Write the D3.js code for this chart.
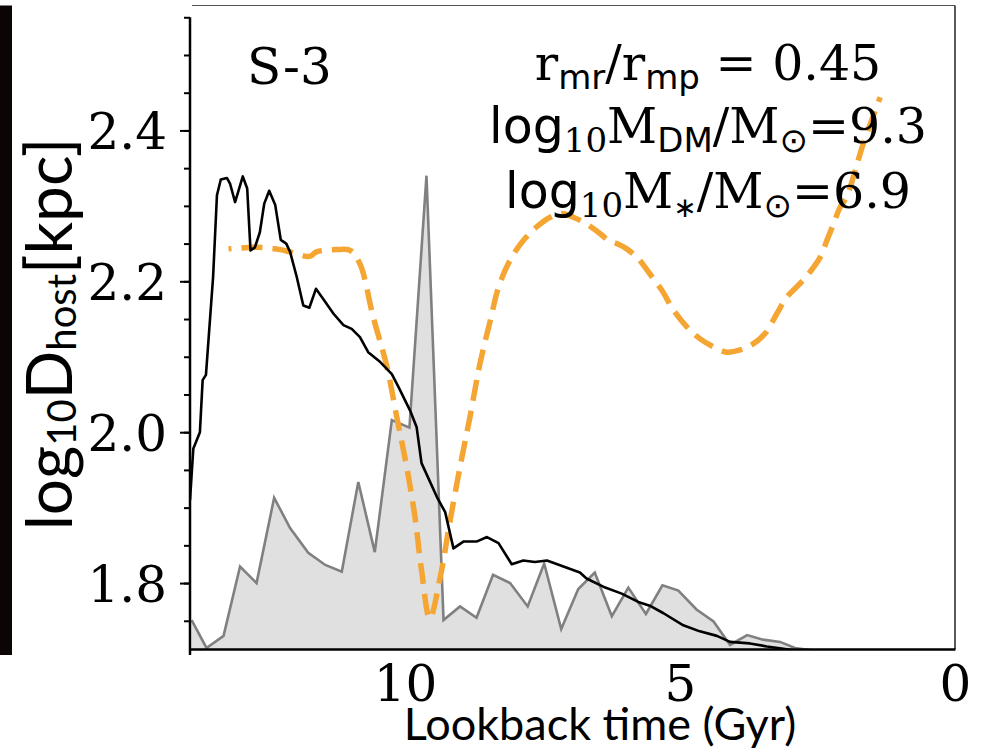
<!DOCTYPE html>
<html>
<head>
<meta charset="utf-8">
<script src="https://cdn.jsdelivr.net/npm/d3@7/dist/d3.min.js"></script>
<style>
  body { margin: 0; background: #fff; }
  svg text { fill: #000; }
</style>
</head>
<body>
<div id="chart"></div>
<script>
// ----------------------------------
// DATA
// ----------------------------------

// grey filled histogram, lookback time (Gyr) vs value in axis units
const sfrTime = [13.88, 13.61, 13.30, 13.00, 12.70, 12.38, 12.09, 11.76, 11.45, 11.15,
  10.85, 10.55, 10.24, 9.92, 9.61, 9.30, 9.00, 8.70, 8.40, 8.09,
  7.77, 7.47, 7.16, 6.85, 6.55, 6.24, 5.94, 5.62, 5.32, 5.03,
  4.70, 4.39, 4.09, 3.78, 3.49, 3.18, 2.91, 2.60, 0.00];
const sfrValue = [1.751, 1.714, 1.730, 1.822, 1.800, 1.913, 1.873, 1.840, 1.824, 1.815,
  1.934, 1.841, 2.016, 2.006, 2.340, 1.751, 1.769, 1.754, 1.811, 1.800,
  1.769, 1.826, 1.739, 1.792, 1.814, 1.756, 1.794, 1.759, 1.797, 1.790,
  1.765, 1.749, 1.718, 1.731, 1.725, 1.722, 1.714, 1.711, 1.711];

// black line
const distTime = [13.91, 13.85, 13.73, 13.68, 13.62, 13.49, 13.42, 13.35, 13.24, 13.18,
  13.09, 12.95, 12.87, 12.81, 12.73, 12.64, 12.56, 12.47, 12.36, 12.26,
  12.16, 12.09, 11.97, 11.85, 11.74, 11.62, 11.51, 11.30, 11.12, 10.97,
  10.82, 10.67, 10.45, 10.24, 10.12, 9.91, 9.79, 9.70, 9.42, 9.27,
  9.12, 8.94, 8.70, 8.51, 8.30, 8.06, 7.85, 7.64, 7.42, 7.12,
  6.82, 6.70, 6.36, 6.06, 5.76, 5.55, 5.30, 4.94, 4.64, 4.33,
  4.09, 3.73, 3.42, 3.12, 2.94];
const distValue = [1.910, 1.978, 2.000, 2.069, 2.076, 2.206, 2.314, 2.335, 2.337, 2.329,
  2.305, 2.339, 2.323, 2.241, 2.245, 2.265, 2.303, 2.320, 2.301, 2.255,
  2.250, 2.239, 2.206, 2.168, 2.165, 2.190, 2.179, 2.157, 2.142, 2.137,
  2.126, 2.106, 2.093, 2.077, 2.060, 2.029, 2.007, 1.959, 1.914, 1.894,
  1.846, 1.855, 1.855, 1.861, 1.853, 1.825, 1.830, 1.828, 1.830, 1.822,
  1.814, 1.806, 1.794, 1.786, 1.775, 1.770, 1.760, 1.744, 1.736, 1.730,
  1.722, 1.720, 1.716, 1.713, 1.711];

// orange dashed line
const orbitTime = [13.21, 12.70, 12.27, 12.09, 11.73, 11.61, 11.24, 11.00, 10.82, 10.58,
  10.33, 10.15, 9.97, 9.82, 9.70, 9.55, 9.36, 9.18, 9.00, 8.82,
  8.64, 8.45, 8.30, 8.09, 7.85, 7.61, 7.36, 7.15, 6.94, 6.70,
  6.45, 6.30, 6.15, 5.97, 5.76, 5.55, 5.33, 5.12, 4.88, 4.64,
  4.39, 4.15, 3.91, 3.67, 3.45, 3.24, 3.06, 2.82, 2.64, 2.45,
  2.33, 2.21, 2.09, 1.97, 1.67, 1.36];
const orbitValue = [2.243, 2.245, 2.242, 2.239, 2.233, 2.239, 2.242, 2.241, 2.223, 2.153,
  2.087, 2.020, 1.954, 1.888, 1.817, 1.753, 1.808, 1.883, 1.954, 2.020,
  2.090, 2.148, 2.192, 2.228, 2.254, 2.272, 2.285, 2.290, 2.285, 2.276,
  2.263, 2.254, 2.250, 2.243, 2.230, 2.210, 2.188, 2.162, 2.140, 2.124,
  2.113, 2.106, 2.109, 2.117, 2.131, 2.157, 2.179, 2.197, 2.212, 2.232,
  2.254, 2.276, 2.298, 2.312, 2.382, 2.444];

const xTickValues = [10, 5, 0];
const yTickValues = [1.8, 2.0, 2.2, 2.4];
const yMinorValues = [1.75, 1.8, 1.85, 1.9, 1.95, 2.0, 2.05, 2.1, 2.15, 2.2,
  2.25, 2.3, 2.35, 2.4, 2.45, 2.5, 2.55];

// ----------------------------------
// SIZES AND SCALES
// ----------------------------------

const width = 983,
      height = 752,
      margin = {top: 5.5, right: 28, bottom: 103, left: 190},
      innerWidth = width - margin.left - margin.right,
      innerHeight = height - margin.top - margin.bottom;

const serif = "'DejaVu Serif', serif",
      sans = "'DejaVu Sans', sans-serif",
      calibri = "Lato, 'Open Sans', sans-serif";

const x = d3.scaleLinear()
  .domain([13.91, 0])
  .range([0, innerWidth]);

const y = d3.scaleLinear()
  .domain([1.7126, 2.5656])
  .range([innerHeight, 0]);

const svg = d3.select('#chart')
  .append('svg')
  .attr('width', width)
  .attr('height', height);

// dark strip on the left edge of the panel
svg.append('rect')
  .attr('x', 0)
  .attr('y', margin.top)
  .attr('width', 12)
  .attr('height', innerHeight + 6)
  .attr('fill', '#0c0505');

const g = svg.append('g')
  .attr('transform', `translate(${margin.left},${margin.top})`);

g.append('clipPath')
  .attr('id', 'plot-clip')
  .append('rect')
  .attr('width', innerWidth)
  .attr('height', innerHeight);

// ----------------------------------
// SERIES
// ----------------------------------

const sfr = sfrTime.map((t, i) => ({t: t, v: sfrValue[i]}));
const dist = distTime.map((t, i) => ({t: t, v: distValue[i]}));
const orbit = orbitTime.map((t, i) => ({t: t, v: orbitValue[i]}));

const plot = g.append('g').attr('clip-path', 'url(#plot-clip)');

plot.append('path')
  .datum(sfr)
  .attr('fill', '#e0e0e0')
  .attr('d', d3.area().x(d => x(d.t)).y0(innerHeight).y1(d => y(d.v)));

plot.append('path')
  .datum(sfr)
  .attr('fill', 'none')
  .attr('stroke', '#808080')
  .attr('stroke-width', 2.6)
  .attr('stroke-linejoin', 'miter')
  .attr('d', d3.line().x(d => x(d.t)).y(d => y(d.v)));

plot.append('path')
  .datum(orbit)
  .attr('fill', 'none')
  .attr('stroke', '#f5a532')
  .attr('stroke-width', 5.5)
  .attr('stroke-dasharray', '21,10')
  .attr('stroke-dashoffset', 18)
  .attr('d', d3.line().curve(d3.curveCatmullRom).x(d => x(d.t)).y(d => y(d.v)));

plot.append('path')
  .datum(dist)
  .attr('fill', 'none')
  .attr('stroke', '#000')
  .attr('stroke-width', 2.6)
  .attr('stroke-linejoin', 'round')
  .attr('d', d3.line().x(d => x(d.t)).y(d => y(d.v)));

// ----------------------------------
// AXES AND FRAME
// ----------------------------------

// thin frame on top and right
g.append('line')
  .attr('x1', 2).attr('x2', innerWidth)
  .attr('y1', 0).attr('y2', 0)
  .attr('stroke', '#555').attr('stroke-width', 1.2);
g.append('line')
  .attr('x1', innerWidth).attr('x2', innerWidth)
  .attr('y1', 0).attr('y2', innerHeight)
  .attr('stroke', '#222').attr('stroke-width', 1.5);

const yMinor = g.append('g')
  .call(d3.axisLeft(y).tickValues(yMinorValues).tickSize(6).tickFormat(''));
yMinor.select('.domain').remove();
yMinor.selectAll('line').attr('stroke-width', 2);

const yAxis = g.append('g')
  .call(d3.axisLeft(y).tickValues(yTickValues).tickSize(10).tickPadding(13)
    .tickFormat(d3.format('.1f')));
yAxis.select('.domain').remove();
yAxis.selectAll('line').attr('stroke-width', 2);
yAxis.selectAll('text')
  .style('font-family', serif)
  .style('font-size', '50px')
  .attr('dy', '0.36em');

// left spine
g.append('line')
  .attr('x1', 0).attr('x2', 0)
  .attr('y1', y(2.55)).attr('y2', innerHeight + 6)
  .attr('stroke', '#000').attr('stroke-width', 2.5);

const xAxis = g.append('g')
  .attr('transform', `translate(0,${innerHeight})`)
  .call(d3.axisBottom(x).tickValues(xTickValues).tickSize(0).tickPadding(16)
    .tickFormat(d3.format('d')));
xAxis.select('.domain')
  .attr('stroke', '#000')
  .attr('stroke-width', 2.6);
xAxis.selectAll('text')
  .style('font-family', serif)
  .style('font-size', '50px');

// ----------------------------------
// LABELS
// ----------------------------------

svg.append('text')
  .attr('x', 600)
  .attr('y', 740)
  .attr('text-anchor', 'middle')
  .style('font-family', calibri)
  .style('font-size', '45px')
  .text('Lookback time (Gyr)');

const yLabel = svg.append('text')
  .attr('transform', 'translate(72,334) rotate(-90)')
  .attr('text-anchor', 'middle')
  .style('font-family', calibri)
  .style('font-size', '64px');
yLabel.append('tspan').text('log');
yLabel.append('tspan').attr('dy', 4).style('font-size', '40px').text('10');
yLabel.append('tspan').attr('dy', -4).text('D');
yLabel.append('tspan').attr('dy', 4).style('font-size', '40px').text('host');
yLabel.append('tspan').attr('dy', -4).text('[kpc]');

svg.append('text')
  .attr('x', 247)
  .attr('y', 84)
  .style('font-family', serif)
  .style('font-size', '50px')
  .text('S-3');

// annotation block, each line built from pieces: [text, font, subscript size]
const noteLines = [
  [['r', serif, 0], ['mr', sans, 34], ['/r', serif, 0], ['mp', sans, 34], [' = 0.45', serif, 0]],
  [['log', sans, 0], ['10', serif, 34], ['M', serif, 0], ['DM', sans, 34], ['/M', serif, 0], ['\u2299', sans, 34], ['=9.3', serif, 0]],
  [['log', sans, 0], ['10', serif, 34], ['M', serif, 0], ['\u2217', sans, 28], ['/M', serif, 0], ['\u2299', sans, 34], ['=6.9', serif, 0]]
];
const noteBaselines = [80, 143, 208];

noteLines.forEach((parts, i) => {
  const t = svg.append('text')
    .attr('x', 708)
    .attr('y', noteBaselines[i])
    .attr('text-anchor', 'middle')
    .style('font-size', '49px');
  let low = false;
  parts.forEach(p => {
    const sub = p[2] > 0;
    const s = t.append('tspan')
      .style('font-family', p[1])
      .text(p[0]);
    if (sub) s.style('font-size', p[2] + 'px');
    if (sub !== low) s.attr('dy', sub ? 9 : -9);
    low = sub;
  });
});
</script>
</body>
</html>
